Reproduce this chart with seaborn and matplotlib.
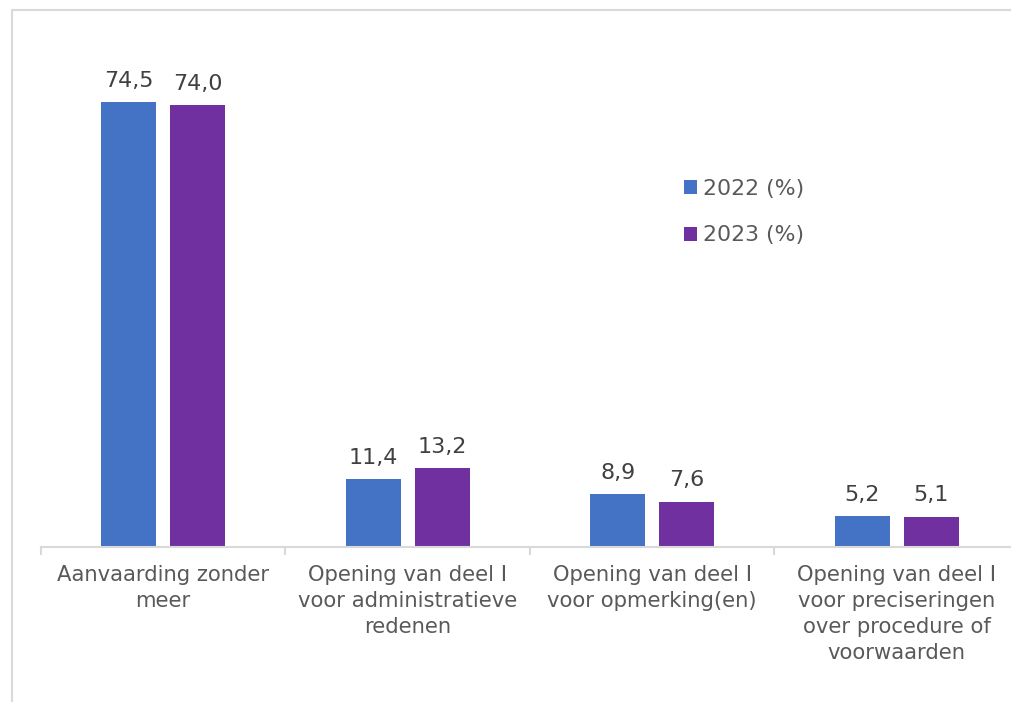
import matplotlib
matplotlib.use("Agg")
import matplotlib.pyplot as plt
from matplotlib.lines import Line2D
from matplotlib.ticker import FixedLocator
import seaborn as sns
import pandas as pd

# Data
categories = [
    "Aanvaarding zonder\nmeer",
    "Opening van deel I\nvoor administratieve\nredenen",
    "Opening van deel I\nvoor opmerking(en)",
    "Opening van deel I\nvoor preciseringen\nover procedure of\nvoorwaarden",
]
series_names = ["2022 (%)", "2023 (%)"]
values_2022 = [74.5, 11.4, 8.9, 5.2]
values_2023 = [74.0, 13.2, 7.6, 5.1]
colors = ["#4472C4", "#7030A0"]

df = pd.DataFrame({
    "categorie": categories * 2,
    "reeks": [series_names[0]] * 4 + [series_names[1]] * 4,
    "waarde": values_2022 + values_2023,
})

sns.set_theme(style="white")
plt.rcParams["font.family"] = ["DejaVu Sans"]

W, H = 1012, 702
fig = plt.figure(figsize=(W / 100, H / 100), dpi=100)
fig.patch.set_facecolor("white")
fig.patch.set_edgecolor("white")

# Outer chart frame: left and top edges
grey = "#d9d9d9"
fig.add_artist(Line2D([12 / W, 12 / W], [0, 1 - 10 / H], transform=fig.transFigure,
                      color=grey, lw=1.5))
fig.add_artist(Line2D([12 / W, 1.0], [1 - 10 / H, 1 - 10 / H], transform=fig.transFigure,
                      color=grey, lw=1.5))

# Plot area: categories are 244.5 px apart, the last one runs past the right edge
x0 = 41
cat_px = 244.5
y_base = 547
ymax = 80
px_per_unit = 445 / 74.5
y_top = y_base - ymax * px_per_unit
ax = fig.add_axes([x0 / W, 1 - y_base / H, (W - x0) / W, (y_base - y_top) / H])

sns.barplot(data=df, x="categorie", y="waarde", hue="reeks", palette=colors,
            width=0.564, gap=0.2, saturation=1, linewidth=0, ax=ax)

ax.set_xlim(-0.5, -0.5 + (W - x0) / cat_px)
ax.set_ylim(0, ymax)
ax.set_xlabel("")
ax.set_ylabel("")
ax.set_yticks([])
for side in ["top", "right", "left"]:
    ax.spines[side].set_visible(False)
ax.spines["bottom"].set_color(grey)
ax.spines["bottom"].set_linewidth(1.5)

# Category dividers as minor ticks; labels on major ticks
ax.xaxis.set_minor_locator(FixedLocator([-0.5, 0.5, 1.5, 2.5]))
ax.tick_params(axis="x", which="minor", length=6, width=1.5, color=grey, bottom=True)
ax.tick_params(axis="x", which="major", length=0, pad=13, labelsize=15.2, labelcolor="#595959")
for lbl in ax.get_xticklabels():
    lbl.set_linespacing(1.38)

# Value labels with comma decimals
for container in ax.containers:
    vals = [b.get_height() for b in container]
    ax.bar_label(container, labels=[f"{v:.1f}".replace(".", ",") for v in vals],
                 padding=8, fontsize=16, color="#404040")

leg = ax.legend(loc="upper left", bbox_to_anchor=(684 / W, 1 - 179 / H),
                bbox_transform=fig.transFigure, frameon=False, fontsize=15.8,
                handlelength=0.6, handleheight=0.6, handletextpad=0.28,
                labelspacing=1.2, borderpad=0, borderaxespad=0)
for t in leg.get_texts():
    t.set_color("#595959")

fig.savefig("out.png", dpi=100, facecolor="white")
